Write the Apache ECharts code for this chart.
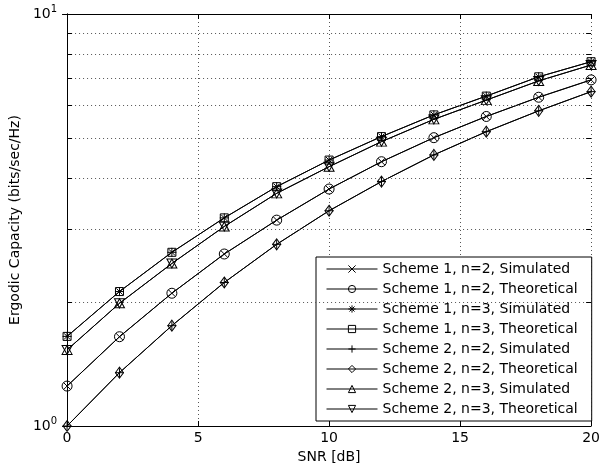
<!DOCTYPE html>
<html>
<head>
<meta charset="utf-8">
<script src="https://cdn.jsdelivr.net/npm/echarts@6/dist/echarts.min.js"></script>
<style>html,body{margin:0;padding:0;background:#fff;}#c{width:603px;height:472px;}</style>
</head>
<body>
<div id="c"></div>
<script>
// ---- data ----
var snr = [0, 2, 4, 6, 8, 10, 12, 14, 16, 18, 20];
var s1n2Sim = [1.25, 1.647, 2.10, 2.615, 3.16, 3.76, 4.38, 5.01, 5.64, 6.28, 6.92];
var s1n2Th  = [1.25, 1.647, 2.10, 2.615, 3.16, 3.76, 4.38, 5.01, 5.64, 6.28, 6.92];
var s1n3Sim = [1.65, 2.12, 2.64, 3.20, 3.81, 4.42, 5.04, 5.69, 6.32, 7.04, 7.66];
var s1n3Th  = [1.65, 2.12, 2.64, 3.20, 3.81, 4.42, 5.04, 5.69, 6.32, 7.04, 7.66];
var s2n2Sim = [1.0, 1.347, 1.752, 2.23, 2.76, 3.33, 3.92, 4.55, 5.18, 5.82, 6.48];
var s2n2Th  = [1.0, 1.347, 1.752, 2.23, 2.76, 3.33, 3.92, 4.55, 5.18, 5.82, 6.48];
var s2n3Sim = [1.53, 1.985, 2.48, 3.05, 3.67, 4.26, 4.90, 5.55, 6.18, 6.88, 7.52];
var s2n3Th  = [1.53, 1.985, 2.48, 3.05, 3.67, 4.26, 4.90, 5.55, 6.18, 6.88, 7.52];
var seriesNames = [
  'Scheme 1, n=2, Simulated', 'Scheme 1, n=2, Theoretical',
  'Scheme 1, n=3, Simulated', 'Scheme 1, n=3, Theoretical',
  'Scheme 2, n=2, Simulated', 'Scheme 2, n=2, Theoretical',
  'Scheme 2, n=3, Simulated', 'Scheme 2, n=3, Theoretical'
];
var minorLevels = [2, 3, 4, 5, 6, 7, 8, 9];

// ---- styling ----
var FONT = 'DejaVu Sans';
var SYM = {
  x: 'path://M0,0 L10,10 M10,0 L0,10',
  plus: 'path://M5,0 L5,10 M0,5 L10,5',
  star: 'path://M5,0 L5,10 M0,5 L10,5 M1.5,1.5 L8.5,8.5 M8.5,1.5 L1.5,8.5',
  down: 'path://M0,0 L10,0 L5,9 Z',
  up: 'path://M5,0 L10,9 L0,9 Z'
};
var marks = [
  {d: s1n2Sim, s: SYM.x, z: 7},
  {d: s1n2Th, s: 'circle', z: 10},
  {d: s1n3Sim, s: SYM.star, z: 9},
  {d: s1n3Th, s: 'rect', z: 8},
  {d: s2n2Sim, s: SYM.plus, z: 9},
  {d: s2n2Th, s: 'diamond', z: [8, 11]},
  {d: s2n3Sim, s: SYM.up, z: [10, 9]},
  {d: s2n3Th, s: SYM.down, z: [10, 9]}
];

var series = marks.map(function (m, i) {
  return {
    name: seriesNames[i],
    type: 'line',
    data: snr.map(function (x, k) { return [x, m.d[k]]; }),
    symbol: m.s,
    symbolSize: m.z,
    showAllSymbol: true,
    lineStyle: {color: '#000', width: 1},
    itemStyle: {color: 'none', borderColor: '#000', borderWidth: 1},
    emphasis: {disabled: true},
    z: 3
  };
});

var dotStyle = {color: '#555', width: 1, type: [1, 3]};
var gridLines = minorLevels.map(function (v) { return {yAxis: v}; });
var tickLen = 0.19;
var minorTicks = [];
minorLevels.forEach(function (v) {
  minorTicks.push([{coord: [0, v]}, {coord: [tickLen, v]}]);
  minorTicks.push([{coord: [20 - tickLen, v]}, {coord: [20, v]}]);
});
series.push({
  name: 'grid', type: 'line', data: [], silent: true, z: 1,
  markLine: {silent: true, symbol: ['none', 'none'], label: {show: false}, animation: false,
    lineStyle: dotStyle, data: gridLines}
});
series.push({
  name: 'ticks', type: 'line', data: [], silent: true, z: 2,
  markLine: {silent: true, symbol: ['none', 'none'], label: {show: false}, animation: false,
    lineStyle: {color: '#000', width: 1, type: 'solid'}, data: minorTicks}
});

var yLabelFmt = function (v) {
  return '{b|10}{s|' + Math.round(Math.log10(v)) + '}';
};
var yRich = {
  b: {fontSize: 14, fontFamily: FONT, color: '#000'},
  s: {fontSize: 10, fontFamily: FONT, color: '#000', padding: [0, 0, 9, 0]}
};

var chart = echarts.init(document.getElementById('c'), null, {renderer: 'canvas'});
chart.setOption({
  animation: false,
  backgroundColor: '#fff',
  textStyle: {fontFamily: FONT},
  grid: {left: 66, right: 10, top: 14, bottom: 46, containLabel: false},
  legend: {
    data: seriesNames,
    orient: 'vertical',
    left: 316, top: 257,
    itemWidth: 51, itemHeight: 9, itemGap: 6,
    padding: [5, 14, 5, 10],
    borderColor: '#000', borderWidth: 1, borderRadius: 0,
    backgroundColor: '#fff',
    lineStyle: {width: 1, color: '#000'},
    itemStyle: {borderWidth: 1, borderColor: '#000', color: 'none'},
    textStyle: {fontFamily: FONT, fontSize: 14, color: '#000', lineHeight: 14},
    selectedMode: false
  },
  xAxis: [{
    type: 'value', min: 0, max: 20, interval: 5,
    name: 'SNR [dB]', nameLocation: 'middle', nameGap: 21,
    nameTextStyle: {fontFamily: FONT, fontSize: 14, color: '#000'},
    axisLine: {lineStyle: {color: '#000', width: 1}},
    axisTick: {inside: true, length: 5, lineStyle: {color: '#000'}},
    axisLabel: {fontFamily: FONT, fontSize: 14, color: '#000', margin: 5},
    splitLine: {show: true, lineStyle: dotStyle}
  }, {
    type: 'value', min: 0, max: 20, interval: 5, position: 'top',
    axisLine: {show: true, lineStyle: {color: '#000', width: 1}},
    axisTick: {show: true, inside: true, length: 5, lineStyle: {color: '#000'}},
    axisLabel: {show: false}, splitLine: {show: false}
  }],
  yAxis: [{
    type: 'log', logBase: 10, min: 1, max: 10,
    name: 'Ergodic Capacity (bits/sec/Hz)', nameLocation: 'middle', nameGap: 38,
    nameTextStyle: {fontFamily: FONT, fontSize: 14, color: '#000'},
    axisLine: {show: true, lineStyle: {color: '#000', width: 1}},
    axisTick: {show: true, inside: true, length: 5, lineStyle: {color: '#000'}},
    axisLabel: {formatter: yLabelFmt, rich: yRich, margin: 10},
    splitLine: {show: false}
  }, {
    type: 'log', logBase: 10, min: 1, max: 10, position: 'right',
    axisLine: {show: true, lineStyle: {color: '#000', width: 1}},
    axisTick: {show: true, inside: true, length: 5, lineStyle: {color: '#000'}},
    axisLabel: {show: false}, splitLine: {show: false}
  }],
  series: series
});
</script>
</body>
</html>
